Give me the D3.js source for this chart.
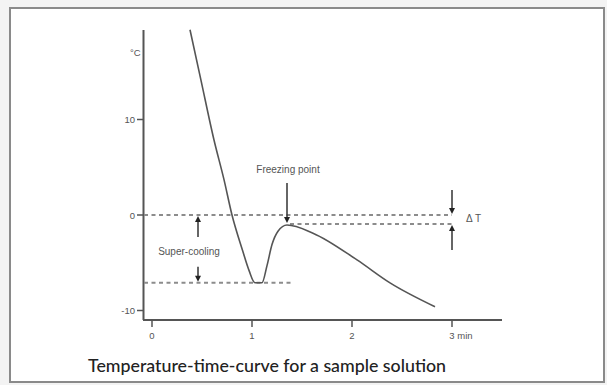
<!DOCTYPE html>
<html>
<head>
<meta charset="utf-8">
<script src="https://cdnjs.cloudflare.com/ajax/libs/d3/7.8.5/d3.min.js"></script>
<style>
  body { margin: 0; background: #f3f3f3; }
  svg { display: block; }
</style>
</head>
<body>
<script>
// curve (time in min, temperature in °C)
var time = [0.38, 0.49, 0.62, 0.72, 0.80, 0.905, 0.97, 1.03, 1.10, 1.15, 1.20, 1.26, 1.35, 1.61, 2.05, 2.38, 2.83];
var temp = [19.4, 14.1, 7.85, 3.7, 0, -3.7, -5.8, -7.1, -7.1, -5.3, -3.1, -1.7, -1.05, -1.9, -4.7, -7.1, -9.6];

var xTicks = [0, 1, 2, 3];
var xTickLabels = ['0', '1', '2', '3 min'];
var yTicks = [-10, 0, 10];

var freezeT = -0.95;     // freezing point of the solution
var pureT = 0;           // freezing point of the solvent
var superMin = -7.1;     // lowest point of super-cooling

var width = 607, height = 385;

var svg = d3.select('body').append('svg')
    .attr('width', width)
    .attr('height', height);

// frame
svg.append('rect')
    .attr('x', 10).attr('y', 8)
    .attr('width', 594).attr('height', 374)
    .attr('fill', '#ffffff')
    .attr('stroke', '#8a8a8a')
    .attr('stroke-width', 2);

var x = d3.scaleLinear().domain([0, 1]).range([152, 252]);
var y = d3.scaleLinear().domain([0, 10]).range([215, 119.5]);

var axisColor = '#555';
var g = svg.append('g');

// y axis
g.append('line')
    .attr('x1', 143.5).attr('x2', 143.5)
    .attr('y1', 30).attr('y2', 320)
    .attr('stroke', axisColor).attr('stroke-width', 2);
// x axis
g.append('line')
    .attr('x1', 143).attr('x2', 502)
    .attr('y1', 320).attr('y2', 320)
    .attr('stroke', axisColor).attr('stroke-width', 2);

g.selectAll('.ytick').data(yTicks).enter().append('line')
    .attr('x1', 137).attr('x2', 143)
    .attr('y1', function (d) { return y(d); })
    .attr('y2', function (d) { return y(d); })
    .attr('stroke', axisColor).attr('stroke-width', 1.5);

var tickStyle = 'font-size:9.5px; fill:#555; font-family: Arial, "Liberation Sans"';

g.selectAll('.ylab').data(yTicks).enter().append('text')
    .attr('x', 135)
    .attr('y', function (d) { return y(d) + 3.5; })
    .attr('text-anchor', 'end')
    .attr('style', tickStyle)
    .text(function (d) { return d; });

g.append('text')
    .attr('x', 130).attr('y', 56)
    .attr('style', tickStyle)
    .text('°C');

g.selectAll('.xtick').data(xTicks).enter().append('line')
    .attr('x1', function (d) { return x(d); })
    .attr('x2', function (d) { return x(d); })
    .attr('y1', 319).attr('y2', 327)
    .attr('stroke', axisColor).attr('stroke-width', 1.5);

g.selectAll('.xlab').data(xTicks).enter().append('text')
    .attr('x', function (d) { return x(d) - 2.7; })
    .attr('y', 339)
    .attr('style', tickStyle)
    .text(function (d, i) { return xTickLabels[i]; });

// dashed reference lines
function dashed(t0, t1, v) {
    g.append('line')
        .attr('x1', typeof t0 === 'number' ? x(t0) : 144)
        .attr('x2', x(t1))
        .attr('y1', y(v)).attr('y2', y(v))
        .attr('stroke', '#8c8c8c')
        .attr('stroke-width', 2)
        .attr('stroke-dasharray', '4,3.5');
}
dashed(null, 3, pureT);
dashed(1.38, 3, freezeT);
dashed(null, 1.40, superMin);

// curve
var pts = time.map(function (t, i) { return [t, temp[i]]; });
var line = d3.line()
    .x(function (d) { return x(d[0]); })
    .y(function (d) { return y(d[1]); })
    .curve(d3.curveMonotoneX);

g.append('path')
    .attr('d', line(pts))
    .attr('fill', 'none')
    .attr('stroke', '#555')
    .attr('stroke-width', 1.6);

// arrows
function arrow(px, yFrom, yTo) {
    var dir = yTo > yFrom ? 1 : -1;
    g.append('line')
        .attr('x1', px).attr('x2', px)
        .attr('y1', yFrom).attr('y2', yTo - dir * 4)
        .attr('stroke', '#333').attr('stroke-width', 1.5);
    g.append('path')
        .attr('d', 'M' + (px - 3) + ',' + (yTo - dir * 6) + 'L' + (px + 3) + ',' + (yTo - dir * 6) + 'L' + px + ',' + yTo + 'Z')
        .attr('fill', '#222');
}

var scX = x(0.46);
arrow(scX, y(pureT) + 22, y(pureT) + 1);
arrow(scX, y(superMin) - 16, y(superMin) - 1);

var fpX = x(1.35);
arrow(fpX, 183, y(freezeT) - 1);

var dtX = x(3);
arrow(dtX, 190, y(pureT) - 1);
arrow(dtX, 250, y(freezeT) + 1);

var labelStyle = 'font-size:10px; fill:#555; font-family: Arial, "Liberation Sans"';

g.append('text')
    .attr('x', 189).attr('y', 255)
    .attr('text-anchor', 'middle')
    .attr('style', labelStyle)
    .text('Super-cooling');

g.append('text')
    .attr('x', 288).attr('y', 173)
    .attr('text-anchor', 'middle')
    .attr('style', labelStyle)
    .text('Freezing point');

g.append('text')
    .attr('x', 466).attr('y', 222)
    .attr('style', labelStyle)
    .text('Δ T');

// caption
svg.append('text')
    .attr('x', 88).attr('y', 372)
    .attr('style', 'font-size:17.8px; font-weight:500; fill:#222; font-family: Lato, "Open Sans"')
    .text('Temperature-time-curve for a sample solution');
</script>
</body>
</html>
